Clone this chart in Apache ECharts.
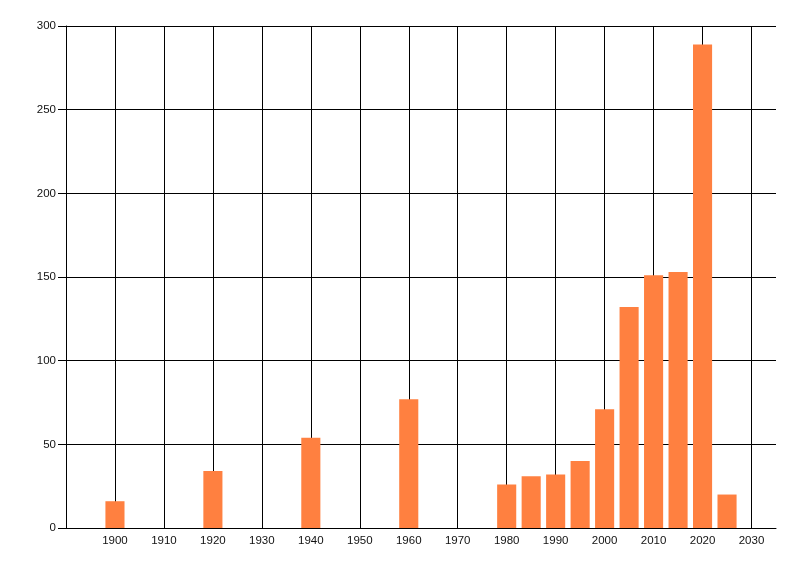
<!DOCTYPE html>
<html>
<head>
<meta charset="utf-8">
<script src="https://cdn.jsdelivr.net/npm/echarts@6/dist/echarts.min.js"></script>
<style>
html,body{margin:0;padding:0;background:#fff;}
#chart{width:800px;height:576px;}
</style>
</head>
<body>
<div id="chart"></div>
<script>
const years = [1900, 1920, 1940, 1960, 1980, 1985, 1990, 1995, 2000, 2005, 2010, 2015, 2020, 2025];
const counts = [16, 34, 54, 77, 26, 31, 32, 40, 71, 132, 151, 153, 289, 20];
const barYears = 3.9;

const data = years.map((y, i) => [y, counts[i]]);
const chart = echarts.init(document.getElementById('chart'));
const font = 'Liberation Sans, Arial, sans-serif';
chart.setOption({
  animation: false,
  backgroundColor: '#fff',
  grid: { left: 66, right: 24, top: 26, bottom: 48, containLabel: false },
  xAxis: {
    type: 'value', min: 1890, max: 2035, interval: 10,
    axisLine: { show: true, lineStyle: { color: '#000', width: 1 } },
    axisTick: { show: false },
    axisLabel: {
      color: '#111', fontFamily: font, fontSize: 11.5, margin: 7,
      formatter: v => (v >= 1900 && v % 10 === 0) ? String(v) : '',
      showMinLabel: false, showMaxLabel: false
    },
    splitLine: { show: true, showMinLine: false, showMaxLine: false, lineStyle: { color: '#000', width: 1 } }
  },
  yAxis: {
    type: 'value', min: 0, max: 300, interval: 50,
    axisLine: { show: true, lineStyle: { color: '#000', width: 1 } },
    axisTick: { show: true, length: 8, lineStyle: { color: '#000' } },
    axisLabel: { color: '#111', fontFamily: font, fontSize: 11.5, margin: 10 },
    splitLine: { show: true, lineStyle: { color: '#000', width: 1 } }
  },
  series: [{
    type: 'custom',
    data: data,
    encode: { x: 0, y: 1 },
    renderItem: function (params, api) {
      const x = api.value(0), v = api.value(1);
      const p0 = api.coord([x - barYears / 2, v]);
      const p1 = api.coord([x + barYears / 2, 0]);
      return {
        type: 'rect',
        shape: { x: p0[0], y: p0[1], width: p1[0] - p0[0], height: p1[1] - p0[1] },
        style: { fill: '#FF8040' }
      };
    }
  }]
});
</script>
</body>
</html>
